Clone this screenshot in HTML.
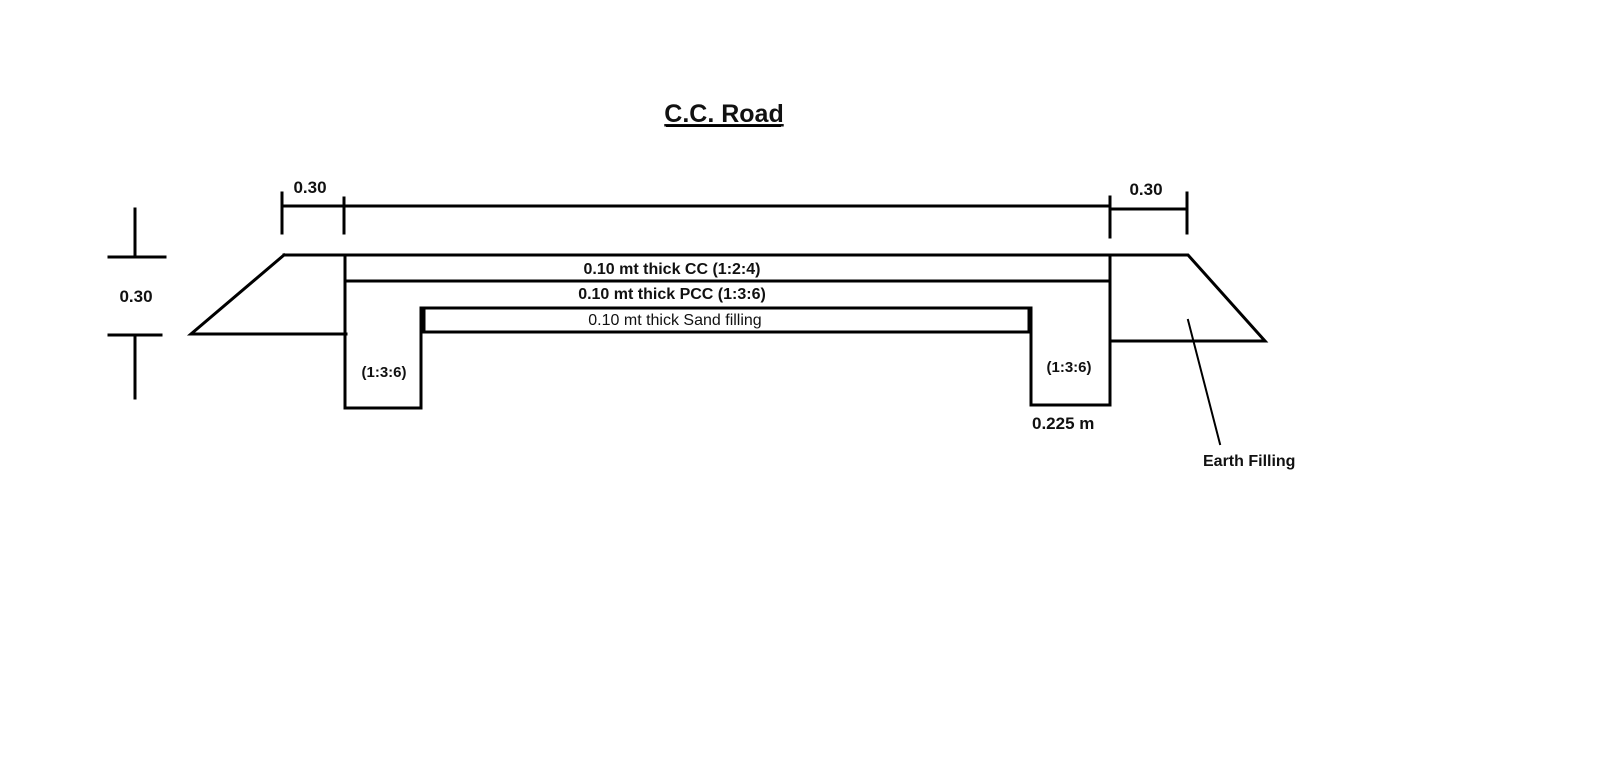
<!DOCTYPE html>
<html><head><meta charset="utf-8"><style>
html,body{margin:0;padding:0;background:#fff;}
svg{display:block;}
text{font-family:"Liberation Sans",sans-serif;fill:#111;}
</style></head><body>
<svg width="1600" height="768" viewBox="0 0 1600 768">
<g stroke="#000" stroke-width="3" fill="none" stroke-linecap="square">
<!-- left vertical dim -->
<line x1="135" y1="209" x2="135" y2="257"/>
<line x1="109" y1="257" x2="165" y2="257"/>
<line x1="109" y1="335" x2="161" y2="335"/>
<line x1="135" y1="335" x2="135" y2="398"/>
<!-- top dims -->
<line x1="282" y1="193" x2="282" y2="233"/>
<line x1="344" y1="198" x2="344" y2="233"/>
<line x1="282" y1="206" x2="1110" y2="206"/>
<line x1="1110" y1="197" x2="1110" y2="237"/>
<line x1="1187" y1="193" x2="1187" y2="233"/>
<line x1="1110" y1="209" x2="1187" y2="209"/>
<!-- road outline -->
<line x1="284" y1="255" x2="1110" y2="255"/>
<polyline points="284,255 191,334 346,334"/>
<line x1="345" y1="255" x2="345" y2="408"/>
<line x1="345" y1="281" x2="1110" y2="281"/>
<polyline points="1110,255 1188,255 1265,341 1110,341"/>
<line x1="1110" y1="255" x2="1110" y2="405"/>
<polyline points="1031,308 1031,405 1110,405"/>
<!-- sand layer -->
<line x1="421" y1="308" x2="1031" y2="308"/>
<line x1="421" y1="332" x2="1031" y2="332"/>
<polyline points="421,308 421,408 345,408"/>
<line x1="424" y1="310" x2="424" y2="330"/>
<line x1="1029" y1="310" x2="1029" y2="330"/>
<!-- leader -->
<line x1="1188" y1="320" x2="1220" y2="444" stroke-width="2"/>
</g>
<text x="724" y="122" font-size="25" font-weight="bold" text-anchor="middle" text-decoration="underline">C.C. Road</text>
<line x1="666" y1="126" x2="781" y2="126" stroke="#000" stroke-width="2"/>
<text x="310" y="193" font-size="17" font-weight="bold" text-anchor="middle">0.30</text>
<text x="1146" y="195" font-size="17" font-weight="bold" text-anchor="middle">0.30</text>
<text x="136" y="302" font-size="17" font-weight="bold" text-anchor="middle">0.30</text>
<text x="672" y="274" font-size="16" font-weight="bold" text-anchor="middle">0.10 mt thick CC (1:2:4)</text>
<text x="672" y="299" font-size="16" font-weight="bold" text-anchor="middle">0.10 mt thick PCC (1:3:6)</text>
<text x="675" y="325" font-size="16" text-anchor="middle">0.10 mt thick Sand filling</text>
<text x="384" y="377" font-size="15" font-weight="bold" text-anchor="middle">(1:3:6)</text>
<text x="1069" y="372" font-size="15" font-weight="bold" text-anchor="middle">(1:3:6)</text>
<text x="1032" y="429" font-size="17" font-weight="bold">0.225 m</text>
<text x="1203" y="466" font-size="16" font-weight="bold">Earth Filling</text>
</svg>
</body></html>
